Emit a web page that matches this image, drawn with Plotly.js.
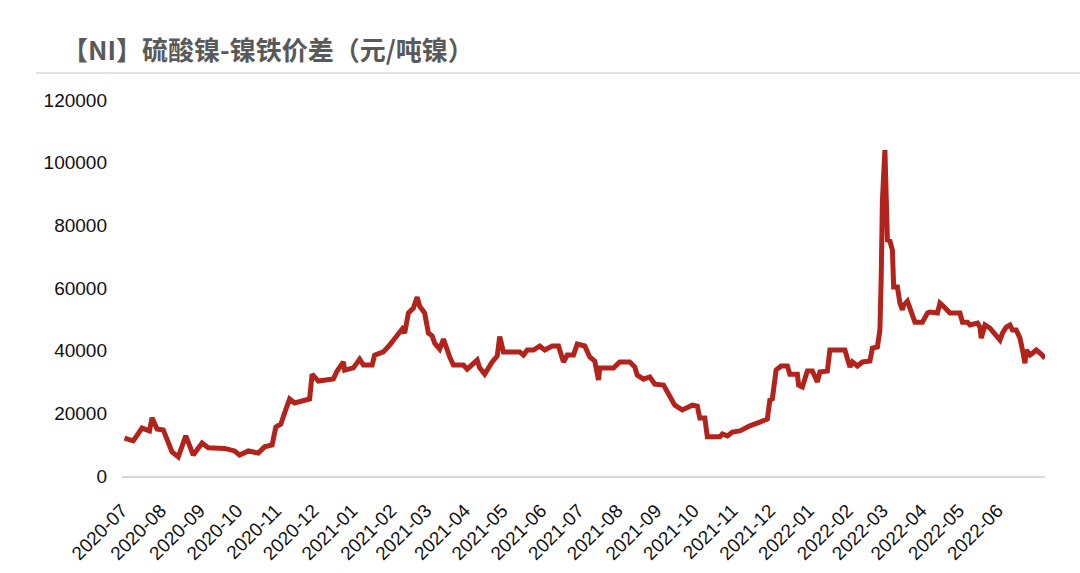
<!DOCTYPE html>
<html>
<head>
<meta charset="utf-8">
<script src="https://cdn.plot.ly/plotly-3.0.1.min.js"></script>
<style>
  html, body { margin: 0; padding: 0; background: #ffffff; }
  #chart { width: 1080px; height: 573px; }
</style>
</head>
<body>
<div id="chart"></div>
<script>
// Chart text
const chartTitle = "【NI】硫酸镍-镍铁价差（元/吨镍）";
const seriesName = "硫酸镍-镍铁价差";

// Dates (approximate)
const dates = [
  "2020-07-03","2020-07-10","2020-07-17","2020-07-23","2020-07-25","2020-07-29","2020-08-03","2020-08-08","2020-08-10","2020-08-15",
  "2020-08-21","2020-08-27","2020-09-03","2020-09-08","2020-09-21","2020-09-29","2020-10-03","2020-10-10","2020-10-18","2020-10-23",
  "2020-10-29","2020-11-01","2020-11-05","2020-11-08","2020-11-12","2020-11-16","2020-11-24","2020-11-28","2020-11-30","2020-12-05",
  "2020-12-17","2020-12-20","2020-12-25","2020-12-26","2021-01-02","2021-01-07","2021-01-10","2021-01-17","2021-01-19","2021-01-26",
  "2021-01-31","2021-02-07","2021-02-10","2021-02-12","2021-02-15","2021-02-19","2021-02-22","2021-02-24","2021-02-28","2021-03-03",
  "2021-03-06","2021-03-08","2021-03-12","2021-03-15","2021-03-18","2021-03-20","2021-03-23","2021-03-31","2021-04-03","2021-04-11",
  "2021-04-13","2021-04-17","2021-04-23","2021-04-27","2021-04-29","2021-05-02","2021-05-05","2021-05-15","2021-05-18","2021-05-21",
  "2021-05-26","2021-05-31","2021-06-04","2021-06-10","2021-06-15","2021-06-19","2021-06-22","2021-06-27","2021-06-30","2021-07-06",
  "2021-07-10","2021-07-14","2021-07-17","2021-07-18","2021-07-29","2021-08-03","2021-08-11","2021-08-15","2021-08-17","2021-08-22",
  "2021-08-27","2021-08-31","2021-09-07","2021-09-12","2021-09-16","2021-09-22","2021-09-26","2021-09-30","2021-10-04","2021-10-06",
  "2021-10-10","2021-10-12","2021-10-22","2021-10-24","2021-10-28","2021-11-01","2021-11-07","2021-11-11","2021-11-15","2021-11-23",
  "2021-11-29","2021-12-01","2021-12-03","2021-12-06","2021-12-10","2021-12-15","2021-12-17","2021-12-23","2021-12-24","2021-12-27",
  "2021-12-31","2022-01-04","2022-01-08","2022-01-10","2022-01-16","2022-01-18","2022-01-30","2022-02-03","2022-02-05","2022-02-09",
  "2022-02-13","2022-02-19","2022-02-21","2022-02-25","2022-02-27","2022-02-28","2022-03-01","2022-03-03","2022-03-05","2022-03-07",
  "2022-03-09","2022-03-10","2022-03-13","2022-03-15","2022-03-17","2022-03-18","2022-03-21","2022-03-27","2022-04-02","2022-04-06",
  "2022-04-08","2022-04-14","2022-04-16","2022-04-18","2022-04-22","2022-04-24","2022-05-02","2022-05-04","2022-05-08","2022-05-10",
  "2022-05-16","2022-05-18","2022-05-19","2022-05-22","2022-05-26","2022-05-30","2022-06-03","2022-06-05","2022-06-08","2022-06-11",
  "2022-06-13","2022-06-16","2022-06-19","2022-06-21","2022-06-23","2022-06-24","2022-06-27","2022-06-29","2022-07-02","2022-07-06",
  "2022-07-09"
];

// Spread values, 元/吨镍 (approximate)
const spread = [
  12100,11200,15300,14400,18600,15000,14700,9600,7700,6100,
  12800,6700,10500,9000,8800,8000,6700,8000,7300,9300,
  9900,15600,16600,20100,24600,23300,23900,24600,32500,30300,
  31000,33500,36400,33800,34500,37300,35400,35400,38600,39600,
  41800,45600,46900,45600,52000,53600,57100,54200,52000,45600,
  44700,42400,40500,43700,39600,38000,35400,35400,34100,37000,
  34500,32500,36400,38300,44500,39600,39600,39600,38600,40200,
  40200,41500,40200,41500,41500,36400,38600,38600,42100,41500,
  38000,36700,30600,34500,34500,36400,36400,34800,32200,30900,
  31600,29300,29000,25500,22600,21100,21700,22600,22300,18500,
  18500,12500,12500,13400,12800,14000,14400,15300,16000,17200,
  18200,24200,24600,33800,35100,35100,32500,32500,29000,28400,
  33500,33500,30000,33200,33500,40200,40200,34800,36400,35100,
  36400,36700,40800,41200,46600,62500,88000,104000,75300,75000,
  72100,60300,60300,55200,53000,54500,55800,49100,49100,52000,
  52300,52000,55200,54500,53000,52000,52000,49100,49100,48200,
  48800,47500,44000,48200,47200,45000,43400,45600,47500,48200,
  46600,46600,44000,40200,36000,40200,38600,39200,40200,38900,
  37600
];

// Axis ticks
const yTicks = [0, 20000, 40000, 60000, 80000, 100000, 120000];
const xTickMonths = [
  "2020-07","2020-08","2020-09","2020-10","2020-11","2020-12",
  "2021-01","2021-02","2021-03","2021-04","2021-05","2021-06",
  "2021-07","2021-08","2021-09","2021-10","2021-11","2021-12",
  "2022-01","2022-02","2022-03","2022-04","2022-05","2022-06"
];
const xRange = ["2020-07-01", "2022-07-09"];

const trace = {
  type: "scatter",
  mode: "lines",
  name: seriesName,
  x: dates,
  y: spread,
  line: { color: "#B1231B", width: 5, shape: "linear" },
  hoverinfo: "x+y"
};

const layout = {
  width: 1080,
  height: 573,
  paper_bgcolor: "#ffffff",
  plot_bgcolor: "#ffffff",
  margin: { l: 122, r: 35, t: 100, b: 97, pad: 0 },
  showlegend: false,
  title: {
    text: chartTitle,
    x: 62 / 1080,
    xref: "container",
    xanchor: "left",
    y: 1 - 51 / 573,
    yref: "container",
    yanchor: "middle",
    font: { family: "'Noto Sans CJK SC', 'Noto Sans', sans-serif", size: 26, color: "#595959", weight: 700 }
  },
  xaxis: {
    type: "date",
    range: xRange,
    tickvals: xTickMonths.map(m => m + "-01"),
    ticktext: xTickMonths,
    tickangle: -45,
    ticks: "",
    showgrid: false,
    zeroline: false,
    showline: true,
    linecolor: "#d9d9d9",
    linewidth: 2,
    ticklabelstandoff: 14,
    tickfont: { family: "'Liberation Sans', Arial, sans-serif", size: 19, color: "#111111" },
    fixedrange: true
  },
  yaxis: {
    range: [0, 120000],
    tickvals: yTicks,
    ticktext: yTicks.map(String),
    ticks: "",
    showgrid: false,
    zeroline: false,
    showline: false,
    ticklabelstandoff: 14,
    tickfont: { family: "'Liberation Sans', Arial, sans-serif", size: 19, color: "#111111" },
    fixedrange: true
  },
  shapes: [
    {
      type: "line",
      xref: "paper", yref: "paper",
      x0: (36 - 122) / 923, x1: (1080 - 122) / 923,
      y0: (476 - 73) / 376, y1: (476 - 73) / 376,
      line: { color: "#e3e3e3", width: 2 }
    }
  ]
};

Plotly.newPlot("chart", [trace], layout, { displayModeBar: false, staticPlot: true });
</script>
</body>
</html>
